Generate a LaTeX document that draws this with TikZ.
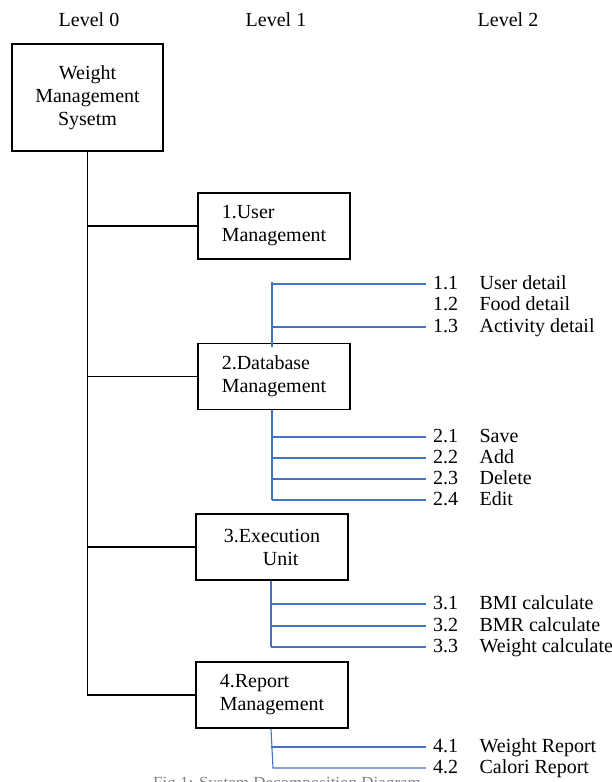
\documentclass[tikz,border=0pt]{standalone}
\usepackage{fontspec}
\setmainfont{Liberation Serif}
\usepackage{xcolor}
\usetikzlibrary{positioning,calc}
\definecolor{subline}{HTML}{4472C4}
\definecolor{captxt}{HTML}{808080}

\begin{document}
\begin{tikzpicture}[x=1pt,y=-1pt,
  box/.style={draw,line width=1.6pt,minimum width=152pt,minimum height=66pt,
              inner sep=0pt,align=left,font=\fontsize{20}{23}\selectfont},
  lvl/.style={font=\fontsize{20}{23}\selectfont},
  num/.style={anchor=west,inner xsep=7pt,inner ysep=0pt,text height=14pt,
              text depth=4pt,font=\fontsize{20}{23}\selectfont},
  item/.style={inner xsep=0pt,inner ysep=0pt,text height=14pt,text depth=4pt,
               font=\fontsize{20}{23}\selectfont},
  trunk/.style={draw,line width=1.5pt},
  sub/.style={draw=subline,line width=1.1pt}
]
\useasboundingbox (0,0) rectangle (612,782);
\node[lvl] (lv0) at (89,20) {Level 0};
\node[lvl] (lv1) at (276,20) {Level 1};
\node[lvl] (lv2) at (508,20) {Level 2};

\node[box,minimum width=151pt,minimum height=107pt,align=center] (wms) at (87.5,97.5) {Weight\\Management\\Sysetm};
\node[box] (user) at (274,226) {1.User\\Management};
\node[box] (db) at (274,376.5) {2.Database\\Management};
\node[box] (exe) at (272,547) {3.Execution\\\hspace*{39pt}Unit};
\node[box] (rep) at (272,695) {4.Report\\Management};

\draw[trunk] (wms.south) -- (wms.south |- rep.west) -- (rep.west);
\draw[trunk] (wms.south |- user.west) -- (user.west);
\draw[trunk] (wms.south |- db.west) -- (db.west);
\draw[trunk] (wms.south |- exe.west) -- (exe.west);

\node[num] (n11) at (426,284) {1.1};
\node[item,right=14pt of n11] (t11) {User detail};
\node[num] (n12) at (426,305.5) {1.2};
\node[item,right=14pt of n12] (t12) {Food detail};
\node[num] (n13) at (426,327) {1.3};
\node[item,right=14pt of n13] (t13) {Activity detail};
\coordinate (u0) at ($(user.south)+(-2,22)$);
\coordinate (u1) at ($(db.north)+(-2,4)$);
\draw[sub] (u0) -- (u1);
\draw[sub] (u0 |- n11) -- (n11.west);
\draw[sub] (u0 |- n13) -- (n13.west);

\node[num] (n21) at (426,437) {2.1};
\node[item,right=14pt of n21] (t21) {Save};
\node[num] (n22) at (426,458) {2.2};
\node[item,right=14pt of n22] (t22) {Add};
\node[num] (n23) at (426,479) {2.3};
\node[item,right=14pt of n23] (t23) {Delete};
\node[num] (n24) at (426,500) {2.4};
\node[item,right=14pt of n24] (t24) {Edit};
\coordinate (d0) at ($(db.south)+(-2,0)$);
\draw[sub] (d0) -- (d0 |- n24);
\draw[sub] (d0 |- n21) -- (n21.west);
\draw[sub] (d0 |- n22) -- (n22.west);
\draw[sub] (d0 |- n23) -- (n23.west);
\draw[sub] (d0 |- n24) -- (n24.west);

\node[num] (n31) at (426,604) {3.1};
\node[item,right=14pt of n31] (t31) {BMI calculate};
\node[num] (n32) at (426,626) {3.2};
\node[item,right=14pt of n32] (t32) {BMR calculate};
\node[num] (n33) at (426,647) {3.3};
\node[item,right=14pt of n33] (t33) {Weight calculate};
\coordinate (e0) at ($(exe.south)+(-1,0)$);
\draw[sub] (e0) -- (e0 |- n33);
\draw[sub] (e0 |- n31) -- (n31.west);
\draw[sub] (e0 |- n32) -- (n32.west);
\draw[sub] (e0 |- n33) -- (n33.west);

\node[num] (n41) at (426,747) {4.1};
\node[item,right=14pt of n41] (t41) {Weight Report};
\node[num] (n42) at (426,768) {4.2};
\node[item,right=14pt of n42] (t42) {Calori Report};
\coordinate (r0) at ($(rep.south)+(-1,0)$);
\draw[sub] (r0) -- ($(r0 |- n42)+(2,0)$) -- (n42.west);
\draw[sub] (r0 |- n41) -- (n41.west);

\node[anchor=north west,inner sep=0pt,text=captxt,font=\fontsize{17}{19}\selectfont] (cap) at (153,777.5) {Fig.1: System Decomposition Diagram};
\end{tikzpicture}
\end{document}
